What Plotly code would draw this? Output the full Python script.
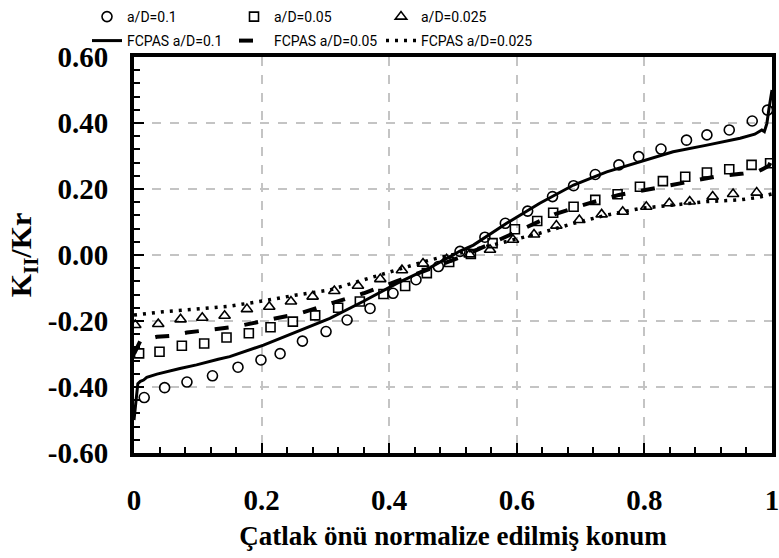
import plotly.graph_objects as go

# ---------------- data ----------------
X_CIRCLE = [0.016, 0.048, 0.083, 0.123, 0.163, 0.199, 0.229, 0.264, 0.301, 0.334,
            0.370, 0.406, 0.442, 0.477, 0.511, 0.550, 0.582, 0.617, 0.656, 0.689,
            0.723, 0.760, 0.791, 0.826, 0.866, 0.898, 0.933, 0.969, 0.993]
Y_CIRCLE = [-0.432, -0.402, -0.385, -0.366, -0.340, -0.318, -0.299, -0.261, -0.232, -0.197,
            -0.162, -0.116, -0.075, -0.035, 0.011, 0.054, 0.096, 0.133, 0.177, 0.210,
            0.244, 0.273, 0.298, 0.321, 0.348, 0.364, 0.379, 0.406, 0.439]

X_SQUARE = [0.008, 0.040, 0.075, 0.110, 0.145, 0.180, 0.214, 0.249, 0.284, 0.320,
            0.354, 0.391, 0.425, 0.459, 0.494, 0.528, 0.562, 0.597, 0.632, 0.657,
            0.689, 0.723, 0.758, 0.793, 0.829, 0.864, 0.898, 0.933, 0.968, 0.997]
Y_SQUARE = [-0.298, -0.293, -0.275, -0.268, -0.250, -0.237, -0.219, -0.202, -0.183, -0.160,
            -0.141, -0.118, -0.094, -0.055, -0.021, 0.003, 0.036, 0.078, 0.103, 0.128,
            0.146, 0.167, 0.184, 0.207, 0.224, 0.237, 0.250, 0.260, 0.273, 0.278]

X_TRIANGLE = [0.002, 0.038, 0.073, 0.107, 0.142, 0.177, 0.212, 0.246, 0.280, 0.314,
              0.351, 0.386, 0.420, 0.453, 0.490, 0.526, 0.558, 0.594, 0.627, 0.662,
              0.698, 0.733, 0.766, 0.803, 0.839, 0.871, 0.907, 0.939, 0.976]
Y_TRIANGLE = [-0.212, -0.209, -0.195, -0.190, -0.184, -0.164, -0.157, -0.141, -0.126, -0.109,
              -0.093, -0.073, -0.046, -0.026, -0.013, 0.002, 0.016, 0.046, 0.062, 0.089,
              0.106, 0.123, 0.131, 0.146, 0.157, 0.162, 0.177, 0.185, 0.189]

X_FCPAS_01 = [0.000, 0.003, 0.006, 0.010, 0.015, 0.020, 0.036, 0.072, 0.098, 0.132,
              0.150, 0.203, 0.255, 0.307, 0.359, 0.412, 0.464, 0.511, 0.532, 0.584,
              0.636, 0.689, 0.741, 0.793, 0.845, 0.898, 0.950, 0.973, 0.984, 0.988,
              0.992, 0.995, 0.998, 1.000]
Y_FCPAS_01 = [-0.500, -0.440, -0.390, -0.383, -0.379, -0.371, -0.361, -0.344, -0.333, -0.316,
              -0.308, -0.273, -0.232, -0.192, -0.141, -0.086, -0.038, 0.012, 0.030, 0.096,
              0.157, 0.212, 0.252, 0.283, 0.313, 0.333, 0.354, 0.366, 0.379, 0.374,
              0.399, 0.440, 0.470, 0.500]

X_FCPAS_005 = [0.000, 0.010, 0.036, 0.056, 0.083, 0.107, 0.160, 0.210, 0.260, 0.310,
               0.360, 0.410, 0.460, 0.510, 0.560, 0.625, 0.660, 0.710, 0.760, 0.810,
               0.860, 0.910, 0.955, 0.980, 0.995, 1.000]
Y_FCPAS_005 = [-0.300, -0.260, -0.248, -0.245, -0.235, -0.229, -0.217, -0.197, -0.177, -0.146,
               -0.116, -0.081, -0.045, -0.008, 0.035, 0.091, 0.124, 0.155, 0.182, 0.200,
               0.220, 0.237, 0.247, 0.255, 0.270, 0.290]

X_FCPAS_0025 = [0.000, 0.046, 0.098, 0.150, 0.203, 0.255, 0.307, 0.359, 0.412, 0.464,
                0.520, 0.580, 0.636, 0.689, 0.741, 0.793, 0.845, 0.898, 0.950, 0.980, 1.000]
Y_FCPAS_0025 = [-0.182, -0.172, -0.164, -0.155, -0.139, -0.121, -0.106, -0.076, -0.045, -0.015,
                0.010, 0.040, 0.066, 0.096, 0.121, 0.141, 0.152, 0.162, 0.167, 0.175, 0.185]

X_TICKS = [0, 0.2, 0.4, 0.6, 0.8, 1]
X_TICK_LABELS = ["0", "0.2", "0.4", "0.6", "0.8", "1"]
Y_TICKS = [-0.6, -0.4, -0.2, 0.0, 0.2, 0.4, 0.6]
Y_TICK_LABELS = ["-0.60", "-0.40", "-0.20", "0.00", "0.20", "0.40", "0.60"]

# ---------------- figure ----------------
fig = go.Figure()

fig.add_trace(go.Scatter(x=X_FCPAS_01, y=Y_FCPAS_01, mode="lines", name="FCPAS a/D=0.1",
                         line=dict(color="black", width=3), legend="legend2"))
fig.add_trace(go.Scatter(x=X_FCPAS_005, y=Y_FCPAS_005, mode="lines", name="FCPAS a/D=0.05",
                         line=dict(color="black", width=4, dash="14px,16px"), legend="legend2"))
fig.add_trace(go.Scatter(x=X_FCPAS_0025, y=Y_FCPAS_0025, mode="lines", name="FCPAS a/D=0.025",
                         line=dict(color="black", width=3.5, dash="3px,6px"), legend="legend2",
                         legendwidth=140))

mk_line = dict(color="black", width=1.6)
fig.add_trace(go.Scatter(x=X_CIRCLE, y=Y_CIRCLE, mode="markers", name="a/D=0.1",
                         marker=dict(symbol="circle-open", size=10, color="black", line=mk_line),
                         legend="legend"))
fig.add_trace(go.Scatter(x=X_SQUARE, y=Y_SQUARE, mode="markers", name="a/D=0.05",
                         marker=dict(symbol="square-open", size=9, color="black", line=mk_line),
                         legend="legend"))
fig.add_trace(go.Scatter(x=X_TRIANGLE, y=Y_TRIANGLE, mode="markers", name="a/D=0.025",
                         marker=dict(symbol="triangle-up-open", size=10, color="black", line=mk_line),
                         legend="legend", legendwidth=140))

serif_bold = dict(family="Liberation Serif", size=29, color="black", weight="bold")
legend_font = dict(family="Roboto", size=14, color="black")

axis_common = dict(
    showline=True, linecolor="black", linewidth=4, mirror=True,
    ticks="inside", ticklen=10, tickwidth=2, tickcolor="black",
    showgrid=True, gridcolor="#c4c4c4", gridwidth=1.5, griddash="dash",
    zeroline=False, tickfont=serif_bold, automargin=False, ticklabeloverflow="allow",
    minor=dict(ticks="inside", ticklen=6, tickwidth=2, tickcolor="black", showgrid=False),
)

LEG_X = (87 - 134) / 638

fig.update_layout(
    width=779, height=558,
    margin=dict(l=134, r=7, t=57, b=105, autoexpand=False),
    paper_bgcolor="white", plot_bgcolor="white",
    showlegend=True,
    xaxis=dict(range=[0, 1], tickvals=X_TICKS, ticktext=X_TICK_LABELS,
               minor_dtick=0.04, ticklabelstandoff=18,
               title=dict(text="Çatlak önü normalize edilmiş konum",
                          font=dict(family="Liberation Serif", size=27, color="black", weight="bold"),
                          standoff=12),
               **axis_common),
    yaxis=dict(range=[-0.6, 0.6], tickvals=Y_TICKS, ticktext=Y_TICK_LABELS,
               minor_dtick=0.04, ticklabelstandoff=16,
               title=dict(text="K<sub>II</sub>/Kr",
                          font=dict(family="Liberation Serif", size=30, color="black", weight="bold"),
                          standoff=8),
               **axis_common),
    legend=dict(orientation="h", x=LEG_X, xanchor="left",
                y=1 + (57 - 1) / 396, yanchor="top",
                entrywidth=102, font=legend_font, bgcolor="rgba(0,0,0,0)",
                tracegroupgap=0),
    legend2=dict(orientation="h", x=LEG_X, xanchor="left",
                 y=1 + (57 - 25) / 396, yanchor="top",
                 entrywidth=102, font=legend_font, bgcolor="rgba(0,0,0,0)",
                 tracegroupgap=0),
)

fig.write_html("out.html", config={"displayModeBar": False},
               post_script="document.body.style.margin='0';")
